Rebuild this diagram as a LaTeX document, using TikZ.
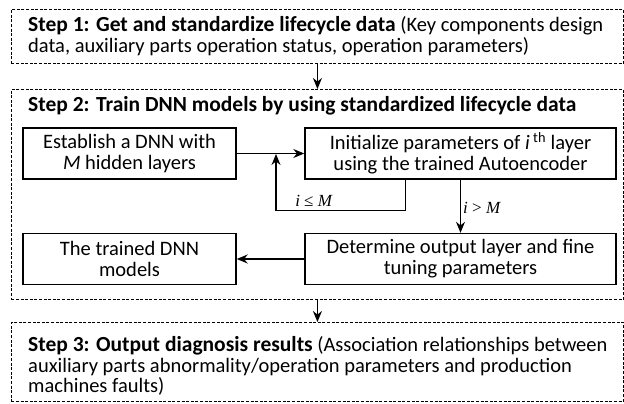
\documentclass[tikz,border=0pt]{standalone}
\usepackage{fontspec}
\setmainfont{Carlito}
\newfontfamily\condserif{Liberation Serif}
\usetikzlibrary{arrows.meta}
\newcommand\stepbold[1]{{\fontsize{21.5}{20.5}\selectfont\bfseries #1}}
\begin{document}
\begin{tikzpicture}[x=1pt,y=-1pt,
  stepframe/.style={draw, dash pattern=on 3pt off 1.6pt, line width=0.9pt, inner sep=0pt, anchor=north west},
  procbox/.style={draw, line width=1.4pt, minimum height=51pt, align=center, font=\fontsize{20.5}{21}\selectfont, inner sep=0pt},
  steptext/.style={anchor=west, align=left, font=\fontsize{20.5}{20.5}\selectfont, inner sep=0pt},
  conn/.style={line width=1.4pt, -{Stealth[length=11pt,width=9pt]}},
  cond/.style={font=\condserif\fontsize{17}{18}\selectfont, inner sep=0pt}
]
\useasboundingbox (0,0) rectangle (624,404);
% step frames
\node[stepframe, minimum width=612pt, minimum height=54pt] (s1) at (11,9) {};
\node[stepframe, minimum width=612pt, minimum height=210pt] (s2) at (11,89) {};
\node[stepframe, minimum width=612pt, minimum height=79pt] (s3) at (11,322) {};
% step texts
\node[steptext] (t1) at (28,36) {\stepbold{Step 1: Get and standardize lifecycle data} (Key components design\\data, auxiliary parts operation status, operation parameters)};
\node[steptext] (t2) at (28,106) {\stepbold{Step 2: Train DNN models by using standardized lifecycle data}};
\node[steptext] (t3) at (28,366) {\stepbold{Step 3: Output diagnosis results} (Association relationships between\\auxiliary parts abnormality/operation parameters and production\\machines faults)};
% process boxes
\node[procbox, minimum width=213pt] (est) at (129.5,153.5) {Establish a DNN with\\\textit{M} hidden layers};
\node[procbox, minimum width=311pt] (ini) at (460.5,153.5) {Initialize parameters of \textit{i}\,\textsuperscript{th} layer\\using the trained Autoencoder};
\node[procbox, minimum width=213pt] (trd) at (129.5,259) {The trained DNN\\models};
\node[procbox, minimum width=311pt] (det) at (460.5,259) {Determine output layer and fine\\tuning parameters};
% connectors
\draw[conn] (s1.south) -- (s2.north);
\draw[conn] (s2.south) -- (s3.north);
\draw[conn] (est) -- (ini);
\coordinate (loopend) at (276,154);
\draw[conn] ([xshift=101pt]ini.south west) -- ++(0,31) -| (loopend);
\draw[conn] (ini.south) -- (det.north);
\draw[conn] (det) -- (trd);
% condition labels
\node[cond] (le) at (314,201) {\textit{i} ≤ \textit{M}};
\node[cond, anchor=west] (gt) at (463,208) {\textit{i} > \textit{M}};
\end{tikzpicture}
\end{document}
